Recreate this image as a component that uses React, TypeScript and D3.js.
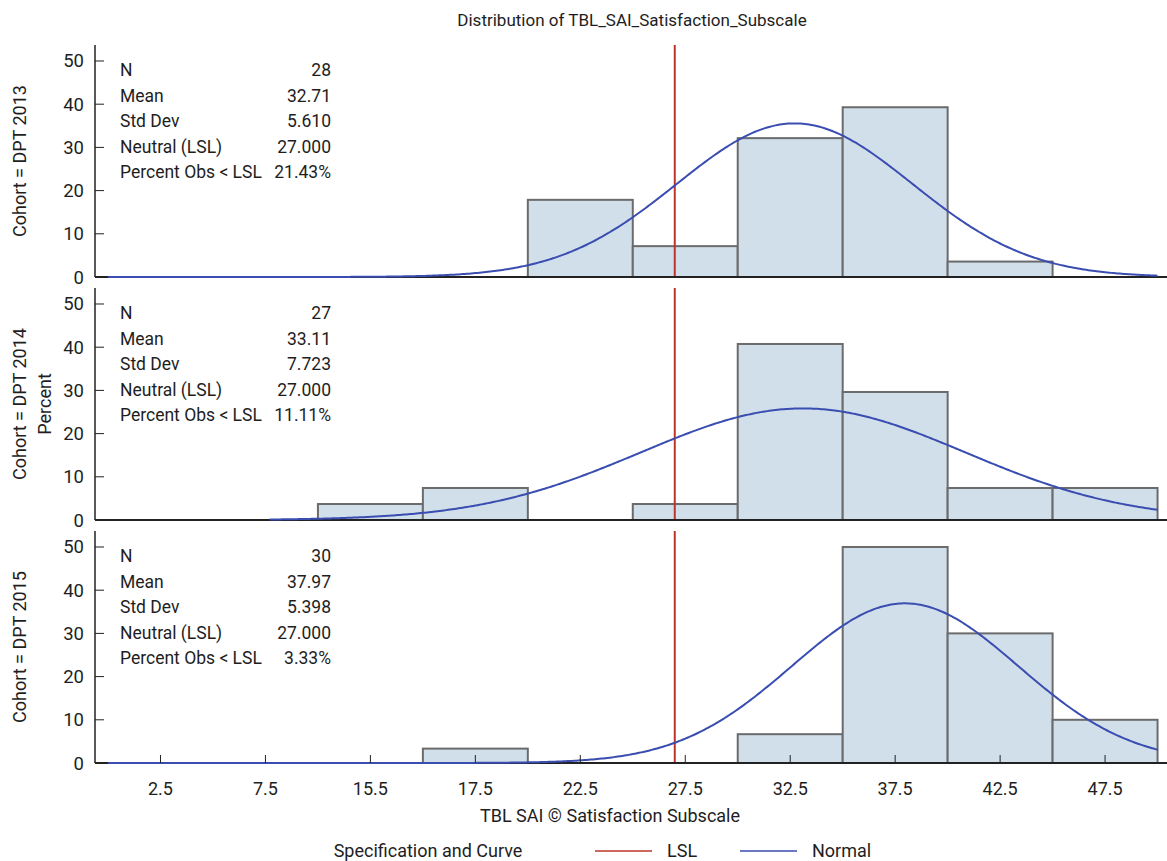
import React from "react";
import * as d3 from "d3";

const cohorts = ["DPT 2013", "DPT 2014", "DPT 2015"];
const binStarts = [0, 5, 10, 15, 20, 25, 30, 35, 40, 45];
const binWidth = 5;
// percent per bin, per cohort (0 = no bar)
const pct2013 = [0, 0, 0, 0, 17.86, 7.14, 32.14, 39.29, 3.57, 0];
const pct2014 = [0, 0, 3.7, 7.41, 0, 3.7, 40.74, 29.63, 7.41, 7.41];
const pct2015 = [0, 0, 0, 3.33, 0, 0, 6.67, 50, 30, 10];
const percents = [pct2013, pct2014, pct2015];

const statLabels = ["N", "Mean", "Std Dev", "Neutral (LSL)", "Percent Obs < LSL"];
const stats2013 = ["28", "32.71", "5.610", "27.000", "21.43%"];
const stats2014 = ["27", "33.11", "7.723", "27.000", "11.11%"];
const stats2015 = ["30", "37.97", "5.398", "27.000", "3.33%"];
const statTexts = [stats2013, stats2014, stats2015];

const means = [32.71, 33.11, 37.97];
const sds = [5.61, 7.723, 5.398];
const curveStart = [0, 7.7, 0];
const curveEnd = 50;
const lsl = 27;

const xTickValues = [2.5, 7.5, 12.5, 17.5, 22.5, 27.5, 32.5, 37.5, 42.5, 47.5];
const xTickLabels = ["2.5", "7.5", "15.5", "17.5", "22.5", "27.5", "32.5", "37.5", "42.5", "47.5"];
const yTicks = [0, 10, 20, 30, 40, 50];

const FONT = "Roboto, 'DejaVu Sans Condensed', sans-serif";
const W = 1167;
const H = 861;
const panelTops = [45, 288, 531];
const panelH = 232;
const yMax = 53.7;

const BAR_FILL = "#d1dfeb";
const BAR_STROKE = "#6b6b6b";
const CURVE = "#3a4db0";
const RED = "#c0332b";
const TXT = "#1e1e1e";

export default function App() {
  const x = d3.scaleLinear().domain([-0.62, 50.45]).range([95, 1167]);

  const panels = cohorts.map((c, i) => {
    const top = panelTops[i];
    const y = d3.scaleLinear().domain([0, yMax]).range([top + panelH, top]);
    const pts = d3.range(curveStart[i], curveEnd + 0.001, 0.1).map((v) => {
      const z = (v - means[i]) / sds[i];
      const dens = (100 * binWidth * Math.exp(-0.5 * z * z)) / (sds[i] * Math.sqrt(2 * Math.PI));
      return [v, dens] as [number, number];
    });
    const line = d3
      .line<[number, number]>()
      .x((d) => x(d[0]))
      .y((d) => y(d[1]))
      .curve(d3.curveLinear)(pts);
    const base = y(0);
    return (
      <g key={c}>
        {percents[i].map((p, k) =>
          p > 0 ? (
            <rect
              key={k}
              x={x(binStarts[k])}
              y={y(p)}
              width={x(binStarts[k] + binWidth) - x(binStarts[k])}
              height={base - y(p)}
              fill={BAR_FILL}
              stroke={BAR_STROKE}
              strokeWidth={2}
            />
          ) : null
        )}
        <line x1={x(lsl)} x2={x(lsl)} y1={top} y2={base} stroke={RED} strokeWidth={2} />
        <line x1={x.range()[0]} x2={x.range()[0]} y1={top} y2={base} stroke="#222" strokeWidth={1.5} />
        {yTicks.map((t) => (
          <g key={t}>
            <line x1={x.range()[0]} x2={x.range()[0] + 9} y1={y(t)} y2={y(t)} stroke="#222" strokeWidth={1} />
            <text x={84} y={y(t) + 6.5} textAnchor="end" fontSize={18.5} fill={TXT}>
              {t}
            </text>
          </g>
        ))}
        <line x1={x.range()[0]} x2={x.range()[1]} y1={base} y2={base} stroke="#222" strokeWidth={2} />
        <path d={line || ""} fill="none" stroke={CURVE} strokeWidth={2} />
        {i === cohorts.length - 1 &&
          xTickValues.map((t, k) => (
            <g key={t}>
              <line x1={x(t)} x2={x(t)} y1={base} y2={base - 8} stroke="#222" strokeWidth={1} />
              <text x={x(t)} y={base + 32} textAnchor="middle" fontSize={18} fill={TXT}>
                {xTickLabels[k]}
              </text>
            </g>
          ))}
        {statLabels.map((s, k) => (
          <g key={s}>
            <text x={120} y={top + 31 + k * 25.5} fontSize={17.5} fill={TXT}>
              {s}
            </text>
            <text x={331} y={top + 31 + k * 25.5} fontSize={17.5} fill={TXT} textAnchor="end">
              {statTexts[i][k]}
            </text>
          </g>
        ))}
        <text
          transform={`translate(26, ${top + panelH / 2}) rotate(-90)`}
          textAnchor="middle"
          fontSize={18}
          fill={TXT}
        >
          {`Cohort = ${c}`}
        </text>
      </g>
    );
  });

  return (
    <svg width={W} height={H} style={{ position: "absolute", left: 0, top: 0, background: "#fff" }} fontFamily={FONT}>
      <rect width={W} height={H} fill="#fff" />
      <text x={632} y={26} textAnchor="middle" fontSize={17} fill={TXT}>
        Distribution of TBL_SAI_Satisfaction_Subscale
      </text>
      {panels}
      <text transform={`translate(51, ${panelTops[1] + panelH / 2}) rotate(-90)`} textAnchor="middle" fontSize={18} fill={TXT}>
        Percent
      </text>
      <text x={610} y={822} textAnchor="middle" fontSize={18} fill={TXT}>
        TBL SAI © Satisfaction Subscale
      </text>
      <g>
        <text x={428} y={857} textAnchor="middle" fontSize={18} fill={TXT}>
          Specification and Curve
        </text>
        <line x1={595} x2={652} y1={851} y2={851} stroke={RED} strokeWidth={1.5} />
        <text x={667} y={857} fontSize={18} fill={TXT}>
          LSL
        </text>
        <line x1={740} x2={797} y1={851} y2={851} stroke={CURVE} strokeWidth={1.5} />
        <text x={812} y={857} fontSize={18} fill={TXT}>
          Normal
        </text>
      </g>
    </svg>
  );
}
